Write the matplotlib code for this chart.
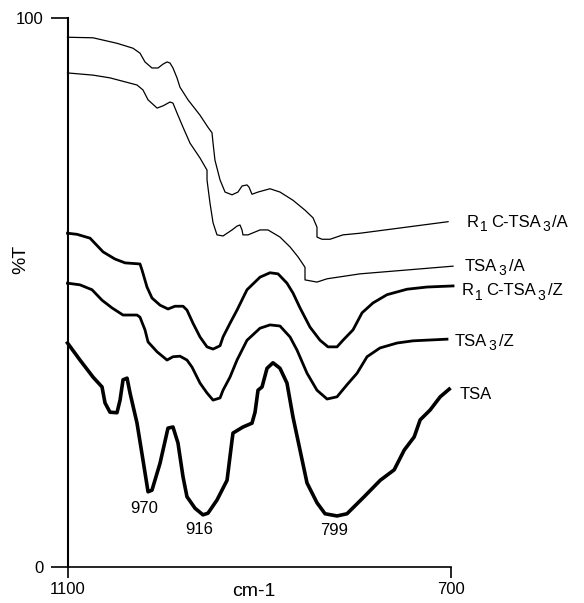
import matplotlib
matplotlib.use('Agg')
import matplotlib.pyplot as plt

plt.rcParams['font.family'] = 'Liberation Sans'

# Espectros IV (%T x numero de onda)
# R1C-TSA3/A
r1c_a_x = [1100, 1073.4, 1048.4, 1031.7, 1024.4, 1019.2, 1011.9, 1005.6, 1000.4, 996.2,
           993.1, 990.0, 985.8, 982.7, 974.3, 961.8, 953.5, 949.3, 948.2, 946.2,
           940.9, 935.7, 928.4, 922.2, 918.0, 912.8, 910.7, 907.6, 901.3, 888.8,
           878.4, 864.8, 852.3, 843.9, 839.8, 839.8, 834.6, 826.2, 812.7, 794.9, 703.1]
r1c_a_y = [96.5, 96.4, 95.4, 94.5, 93.6, 92.0, 90.9, 90.9, 91.6, 92.0,
           91.8, 90.9, 89.1, 87.4, 85.1, 82.3, 80.1, 79.1, 77.2, 74.1,
           70.5, 68.3, 67.8, 68.3, 69.4, 69.6, 69.2, 67.9, 68.3, 68.9,
           68.3, 66.8, 65.0, 63.6, 61.9, 60.1, 59.7, 59.7, 60.5, 60.8, 62.9]

# TSA3/A
tsa3_a_x = [1100, 1073.4, 1055.7, 1027.5, 1021.3, 1016.0, 1006.6, 1000.4, 993.1, 990.0,
            985.8, 979.5, 972.2, 961.8, 954.5, 954.5, 951.4, 948.2, 944.1, 937.8,
            928.4, 923.2, 920.1, 918.0, 917.0, 911.7, 899.2, 890.9, 878.4, 867.9,
            859.6, 852.3, 852.3, 839.8, 829.3, 794.9, 697.9]
tsa3_a_y = [90.0, 89.6, 89.1, 87.8, 86.9, 85.1, 83.6, 84.0, 84.7, 84.5,
            82.7, 80.1, 77.2, 74.5, 72.3, 70.5, 66.3, 62.7, 60.5, 60.3,
            61.4, 62.1, 62.3, 61.4, 60.5, 60.5, 61.4, 61.4, 60.1, 58.3,
            56.5, 54.6, 52.3, 51.9, 52.5, 53.4, 54.8]

# R1C-TSA3/Z
r1c_z_x = [1100, 1090.1, 1076.5, 1062.9, 1050.5, 1040.0, 1024.4, 1022.3, 1017.1, 1011.9,
           1003.5, 995.2, 987.9, 979.5, 975.4, 969.1, 961.8, 954.5, 948.2, 940.9,
           937.8, 930.5, 923.2, 912.8, 899.2, 888.8, 880.4, 871.1, 864.8, 857.5,
           847.1, 836.6, 828.3, 818.9, 812.7, 802.2, 792.8, 781.4, 766.8, 745.9,
           725.0, 697.9]
r1c_z_y = [60.8, 60.6, 59.9, 57.4, 56.1, 55.4, 55.2, 54.1, 51.0, 49.0,
           47.7, 47.0, 47.5, 47.5, 46.8, 44.4, 41.9, 40.1, 39.7, 40.3,
           41.9, 44.4, 46.8, 50.5, 52.8, 53.6, 53.4, 51.7, 49.9, 47.2,
           43.7, 41.3, 40.1, 40.1, 41.3, 43.2, 46.3, 48.1, 49.6, 50.6,
           51.0, 51.2]

# TSA3/Z
tsa3_z_x = [1100, 1087.0, 1074.4, 1064.0, 1053.6, 1042.1, 1027.5, 1024.4, 1019.2, 1016.0,
            1006.6, 996.2, 990.0, 982.7, 975.4, 970.1, 961.8, 954.5, 948.2, 940.9,
            937.8, 930.5, 923.2, 912.8, 899.2, 888.8, 878.4, 867.9, 860.6, 850.2,
            839.8, 829.3, 818.9, 808.5, 798.0, 787.6, 774.1, 756.3, 739.7, 704.2]
tsa3_z_y = [51.7, 51.4, 50.5, 48.6, 47.2, 45.9, 45.9, 45.5, 43.2, 41.0,
            39.2, 37.7, 38.3, 38.4, 37.7, 36.4, 33.5, 31.7, 30.4, 30.8,
            32.2, 34.6, 37.7, 41.3, 43.5, 44.1, 43.9, 41.9, 39.5, 35.3,
            32.2, 30.6, 31.0, 33.2, 35.3, 38.3, 39.9, 40.8, 41.2, 41.5]

# TSA
tsa_x = [1100, 1087.0, 1073.4, 1064.0, 1060.9, 1055.7, 1048.4, 1045.2, 1042.1, 1037.9,
         1034.8, 1027.5, 1021.3, 1016.0, 1011.9, 1003.5, 995.2, 990.0, 984.8, 979.5,
         975.4, 967.0, 958.7, 953.5, 944.1, 933.6, 928.4, 927.4, 917.0, 907.6,
         904.4, 901.3, 897.1, 891.9, 885.7, 878.4, 871.1, 864.8, 857.5, 850.2,
         839.8, 831.4, 818.9, 808.5, 790.6, 773.8, 759.3, 748.8, 738.4, 732.2,
         721.8, 711.3, 701.9]
tsa_y = [40.8, 37.7, 34.6, 32.8, 29.9, 28.2, 28.1, 30.4, 34.1, 34.4,
         31.7, 26.2, 19.5, 13.7, 14.0, 18.9, 25.3, 25.5, 22.6, 16.4,
         12.8, 10.7, 9.5, 9.8, 12.2, 15.8, 23.1, 24.4, 25.5, 26.2,
         28.2, 32.2, 32.8, 36.2, 37.2, 36.2, 33.5, 27.3, 21.3, 15.3,
         11.7, 9.7, 9.3, 9.7, 12.8, 15.8, 17.7, 21.3, 23.7, 26.8,
         28.6, 31.0, 32.4]

# nomes das amostras em pedacos: texto normal / subscrito alternados
nomes = [['R', '1', 'C-TSA', '3', '/A'],
         ['TSA', '3', '/A'],
         ['R', '1', 'C-TSA', '3', '/Z'],
         ['TSA', '3', '/Z'],
         ['TSA']]
picos = ['970', '916', '799']

fig = plt.figure(figsize=(5.84, 6.03), dpi=100)
ax = fig.add_axes([0.1156, 0.0597, 0.6567, 0.9104])

curvas = [(r1c_a_x, r1c_a_y, 0.9), (tsa3_a_x, tsa3_a_y, 0.9),
          (r1c_z_x, r1c_z_y, 2.0), (tsa3_z_x, tsa3_z_y, 2.0), (tsa_x, tsa_y, 2.6)]
for cx, cy, lw in curvas:
    ax.plot(cx, cy, color='black', lw=lw, clip_on=False)


def rotulo(x, y, partes, fs=12, fs_sub=10):
    base = ax.text(x, y, partes[0], fontsize=fs, ha='left', va='center', clip_on=False)
    anterior = base
    for i, p in enumerate(partes[1:], start=1):
        if i % 2 == 1:
            # subscrito
            anterior = ax.annotate(p, xy=(1, 0), xycoords=(anterior, base), xytext=(1, -3),
                                   textcoords='offset points', fontsize=fs_sub, va='bottom',
                                   annotation_clip=False)
        else:
            anterior = ax.annotate(p, xy=(1, 0), xycoords=(anterior, base), xytext=(2, 0),
                                   textcoords='offset points', fontsize=fs, va='bottom',
                                   annotation_clip=False)


# nomes na ponta de cada curva
pos_nomes = [(683.3, 62.8), (685.4, 54.7), (688.5, 50.3), (695.8, 41.1), (690.6, 31.5)]
for partes, (tx, ty) in zip(nomes, pos_nomes):
    rotulo(tx, ty, partes)

# numeros de onda dos minimos do TSA
pos_picos = [(1020.2, 10.7), (962.8, 6.9), (822.0, 6.7)]
for p, (tx, ty) in zip(picos, pos_picos):
    ax.text(tx, ty, p, ha='center', va='center', fontsize=12)

ax.set_xlim(1100, 700)
ax.set_ylim(0, 100)
ax.set_xticks([1100, 700])
ax.set_yticks([0, 100])
ax.spines['top'].set_visible(False)
ax.spines['right'].set_visible(False)
ax.spines['left'].set_linewidth(1.5)
ax.spines['bottom'].set_linewidth(1.2)
ax.tick_params(axis='y', direction='out', length=12, width=1.2, pad=5, labelsize=12)
ax.tick_params(axis='x', direction='out', length=8, width=1.2, pad=3, labelsize=12)

ax.set_xlabel('cm-1', fontsize=14)
ax.xaxis.set_label_coords(0.486, -0.0455)
ax.xaxis.label.set_va('center')
ax.set_ylabel('%T', fontsize=14)
ax.yaxis.set_label_coords(-0.121, 0.561)
ax.yaxis.label.set_va('center')

plt.savefig('out.png', dpi=100)
